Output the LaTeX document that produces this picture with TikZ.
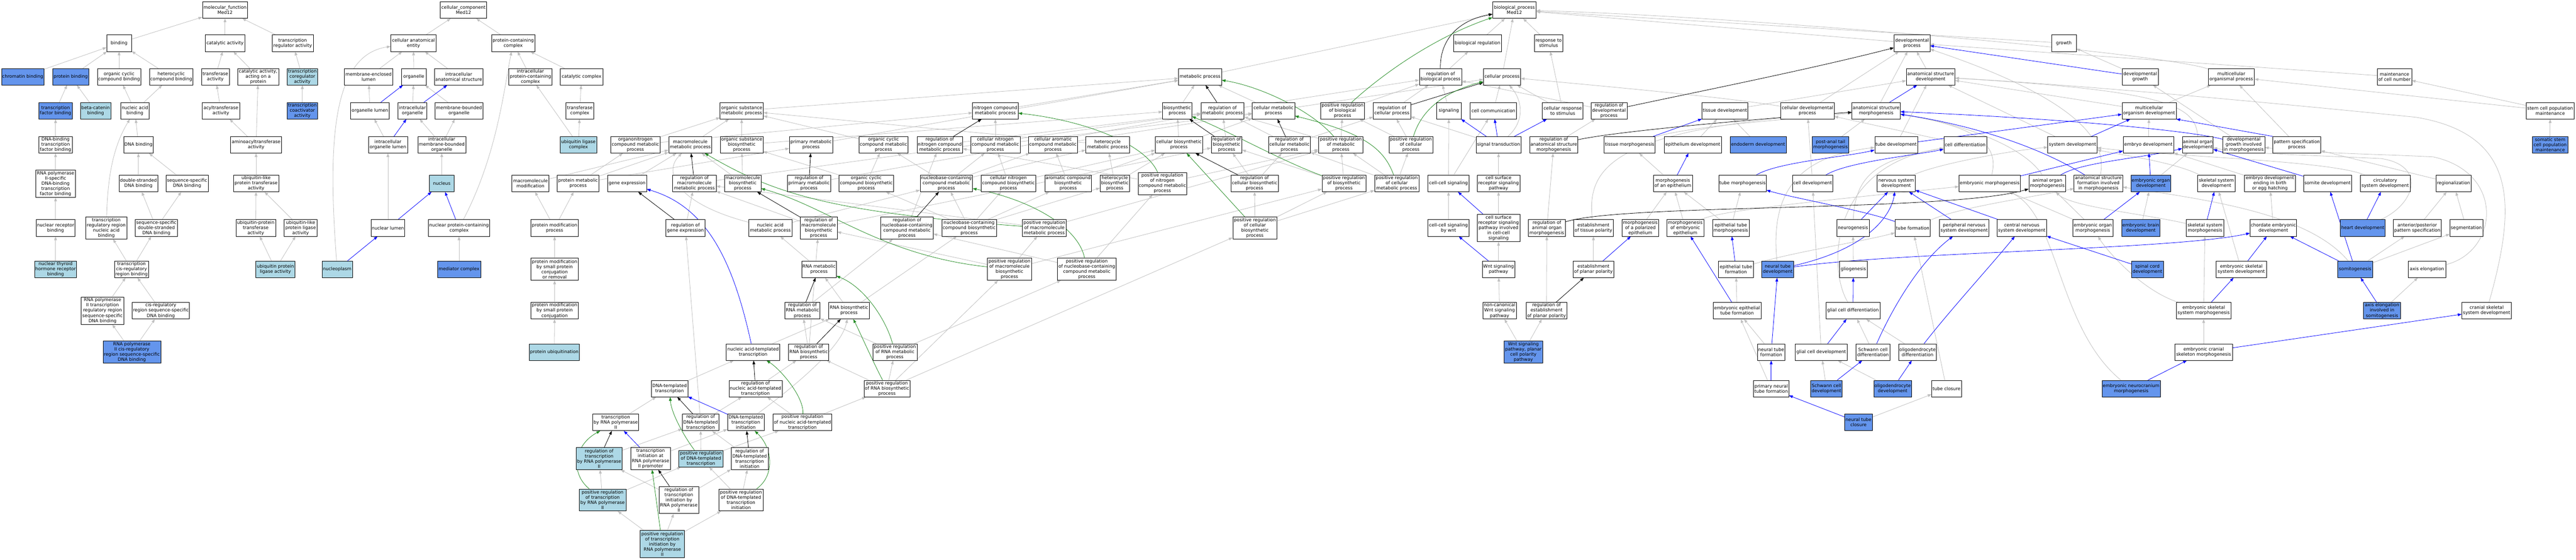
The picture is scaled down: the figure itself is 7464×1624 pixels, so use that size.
\documentclass[tikz,border=0pt]{standalone}
\usepackage{fontspec}
\setmainfont{DejaVu Sans}
\usetikzlibrary{arrows.meta}
\definecolor{eg}{RGB}{192,192,192}
\definecolor{lbf}{RGB}{173,216,230}
\definecolor{cbf}{RGB}{100,149,237}
\definecolor{fgr}{RGB}{34,139,34}
\pgfdeclarelayer{bgpaper}
\pgfdeclarelayer{bg}
\pgfsetlayers{bgpaper,bg,main}
\newcommand{\gn}[6]{\node[#1,minimum width=#4pt,minimum height=#5pt] (#2) at (#3) {#6};}
\begin{document}
\begin{tikzpicture}[x=1pt,y=-1pt,
 bx/.style={draw=black,line width=0.9pt,fill=white,align=center,inner sep=1pt,font=\fontsize{13}{15}\selectfont},
 nw/.style={bx}, nl/.style={bx,fill=lbf}, nc/.style={bx,fill=cbf},
 edgebase/.style={line width=1.2pt,-{Triangle[length=11pt,width=8pt]}},
 egray/.style={edgebase,eg}, eblue/.style={edgebase,blue}, eblack/.style={edgebase,black}, egreen/.style={edgebase,fgr}]
\begin{pgfonlayer}{bgpaper}
\fill[white] (0,0) rectangle (7464,1624);
\end{pgfonlayer}
\useasboundingbox (0,0) rectangle (7464,1624);
% ---------- molecular function ----------
\gn{nw}{mf}{652,29}{131}{48}{molecular\_function\\Med12}
\gn{nw}{bind}{345,125}{72}{48}{binding}
\gn{nw}{cat}{652,125}{115}{48}{catalytic activity}
\gn{nw}{trreg}{848,125}{119}{48}{transcription\\regulator activity}
\gn{nc}{chrom}{66,222.5}{123}{48}{chromatin binding}
\gn{nc}{prot}{205,222.5}{104}{48}{protein binding}
\gn{nw}{occb}{345,222.5}{126}{48}{organic cyclic\\compound binding}
\gn{nw}{hetb}{496,222.5}{126}{48}{heterocyclic\\compound binding}
\gn{nw}{trans}{624,222.5}{80}{48}{transferase\\activity}
\gn{nw}{catp}{748,222.5}{119}{48}{catalytic activity,\\acting on a\\protein}
\gn{nl}{coreg}{876,222.5}{88}{48}{transcription\\coregulator\\activity}
\gn{nc}{tfb}{161,321}{96}{48}{transcription\\factor binding}
\gn{nl}{bcat}{277,321}{88}{48}{beta-catenin\\binding}
\gn{nw}{nab}{391,321}{83}{48}{nucleic acid\\binding}
\gn{nw}{acyl}{640,321}{108}{48}{acyltransferase\\activity}
\gn{nc}{coact}{876,321}{88}{48}{transcription\\coactivator\\activity}
\gn{nw}{dbtf}{161,420}{96}{48}{DNA-binding\\transcription\\factor binding}
\gn{nw}{dnab}{401,420}{86}{48}{DNA binding}
\gn{nw}{amino}{742,420}{148}{48}{aminoacyltransferase\\activity}
\gn{nw}{rnap2tf}{161,533}{115}{79}{RNA polymerase\\II-specific\\DNA-binding\\transcription\\factor binding}
\gn{nw}{dsdna}{401,532}{112}{48}{double-stranded\\DNA binding}
\gn{nw}{ssdna}{542,532}{122}{48}{sequence-specific\\DNA binding}
\gn{nw}{ubtr}{742,532}{131}{48}{ubiquitin-like\\protein transferase\\activity}
\gn{nw}{nrb}{161,661}{113}{48}{nuclear receptor\\binding}
\gn{nw}{trrnab}{308,661}{119}{64}{transcription\\regulatory region\\nucleic acid\\binding}
\gn{nw}{ssds}{453,661}{123}{48}{sequence-specific\\double-stranded\\DNA binding}
\gn{nw}{ubpt}{741,661}{115}{48}{ubiquitin-protein\\transferase\\activity}
\gn{nw}{ublig}{871,661}{95}{48}{ubiquitin-like\\protein ligase\\activity}
\gn{nl}{nthr}{161,781}{122}{48}{nuclear thyroid\\hormone receptor\\binding}
\gn{nw}{tcrb}{381,781}{98}{48}{transcription\\cis-regulatory\\region binding}
\gn{nl}{ubpl}{798,781}{113}{48}{ubiquitin protein\\ligase activity}
\gn{nw}{rp2trr}{297,901}{123}{79}{RNA polymerase\\II transcription\\regulatory region\\sequence-specific\\DNA binding}
\gn{nw}{crss}{466,901}{166}{48}{cis-regulatory\\region sequence-specific\\DNA binding}
\gn{nc}{rp2cr}{382,1021}{167}{64}{RNA polymerase\\II cis-regulatory\\region sequence-specific\\DNA binding}
% ---------- cellular component ----------
\gn{nw}{cc}{1343,29}{134}{48}{cellular\_component\\Med12}
\gn{nw}{cae}{1198,125}{131}{48}{cellular anatomical\\entity}
\gn{nw}{pcc}{1487,125}{125}{48}{protein-containing\\complex}
\gn{nw}{mel}{1068,222.5}{140}{48}{membrane-enclosed\\lumen}
\gn{nw}{org}{1199,222.5}{72}{48}{organelle}
\gn{nw}{ias}{1329,222.5}{141}{48}{intracellular\\anatomical structure}
\gn{nw}{ipcc}{1537,222.5}{125}{48}{intracellular\\protein-containing\\complex}
\gn{nw}{catc}{1685,222.5}{123}{48}{catalytic complex}
\gn{nw}{orgl}{1072,321}{112}{48}{organelle lumen}
\gn{nw}{iorg}{1195,321}{83}{48}{intracellular\\organelle}
\gn{nw}{mbo}{1330,321}{138}{48}{membrane-bounded\\organelle}
\gn{nw}{trc}{1680,321}{81}{48}{transferase\\complex}
\gn{nw}{iol}{1124,420}{113}{48}{intracellular\\organelle lumen}
\gn{nw}{imbo}{1280,420}{139}{48}{intracellular\\membrane-bounded\\organelle}
\gn{nl}{ulc}{1676,420}{106}{48}{ubiquitin ligase\\complex}
\gn{nl}{nucleus}{1280,532}{72}{48}{nucleus}
\gn{nw}{nlum}{1124,661}{98}{48}{nuclear lumen}
\gn{nw}{npcc}{1330,661}{177}{48}{nuclear protein-containing\\complex}
\gn{nl}{npl}{977,781}{88}{48}{nucleoplasm}
\gn{nc}{med}{1330,781}{125}{48}{mediator complex}
% ---------- biological process ----------
\gn{nw}{bp}{4388,29}{126}{48}{biological\_process\\Med12}
\gn{nw}{breg}{4281,125}{139}{48}{biological regulation}
\gn{nw}{resp}{4487,125}{83}{48}{response to\\stimulus}
\gn{nw}{devp}{5540,125}{104}{48}{developmental\\process}
\gn{nw}{growth}{5980,125}{72}{48}{growth}
\gn{nw}{metp}{3477,222.5}{125}{48}{metabolic process}
\gn{nw}{rbp}{4174,222.5}{123}{48}{regulation of\\biological process}
\gn{nw}{cellp}{4352,222.5}{108}{48}{cellular process}
\gn{nw}{asd}{5594,222.5}{141}{48}{anatomical structure\\development}
\gn{nw}{devg}{6201,222.5}{105}{48}{developmental\\growth}
\gn{nw}{mop}{6465,222.5}{134}{48}{multicellular\\organismal process}
\gn{nw}{mcn}{6938,222.5}{99}{48}{maintenance\\of cell number}
% rank 3
\gn{nw}{osmp}{2149,321}{125}{48}{organic substance\\metabolic process}
\gn{nw}{ncmp}{2884,321}{132}{48}{nitrogen compound\\metabolic process}
\gn{nw}{bios}{3411,321}{85}{48}{biosynthetic\\process}
\gn{nw}{rmp}{3542,321}{125}{48}{regulation of\\metabolic process}
\gn{nw}{cmp}{3690,321}{123}{48}{cellular metabolic\\process}
\gn{nw}{prbp}{3890,321}{127}{48}{positive regulation\\of biological\\process}
\gn{nw}{rcp}{4033,321}{108}{48}{regulation of\\cellular process}
\gn{nw}{sig}{4198,321}{72}{48}{signaling}
\gn{nw}{ccom}{4327,321}{134}{48}{cell communication}
\gn{nw}{crs}{4528,321}{118}{48}{cellular response\\to stimulus}
\gn{nw}{rdp}{4662,321}{104}{48}{regulation of\\developmental\\process}
\gn{nw}{tdev}{4998,321}{133}{48}{tissue development}
\gn{nw}{cdp}{5237,321}{155}{48}{cellular developmental\\process}
\gn{nw}{asm}{5436,321}{140}{48}{anatomical structure\\morphogenesis}
\gn{nw}{mod}{6227,321}{157}{48}{multicellular\\organism development}
\gn{nw}{scpm}{7389,321}{138}{48}{stem cell population\\maintenance}
% rank 4
\gn{nw}{oncmp}{1841,420}{142}{48}{organonitrogen\\compound metabolic\\process}
\gn{nw}{mmp}{2000,420}{125}{48}{macromolecule\\metabolic process}
\gn{nw}{osbp}{2149,420}{124}{48}{organic substance\\biosynthetic\\process}
\gn{nw}{pmp}{2350,420}{126}{48}{primary metabolic\\process}
\gn{nw}{occmp}{2560,420}{141}{48}{organic cyclic\\compound metabolic\\process}
\gn{nw}{rncmp}{2723,420}{132}{48}{regulation of\\nitrogen compound\\metabolic process}
\gn{nw}{cncmp}{2884,420}{143}{48}{cellular nitrogen\\compound metabolic\\process}
\gn{nw}{camp}{3051,420}{142}{48}{cellular aromatic\\compound metabolic\\process}
\gn{nw}{hmp}{3209,420}{126}{48}{heterocycle\\metabolic process}
\gn{nw}{cbp}{3416,420}{137}{48}{cellular biosynthetic\\process}
\gn{nw}{rbiop}{3554,420}{89}{48}{regulation of\\biosynthetic\\process}
\gn{nw}{rcmp}{3736,420}{122}{48}{regulation of\\cellular metabolic\\process}
\gn{nw}{prmp}{3885,420}{129}{48}{positive regulation\\of metabolic\\process}
\gn{nw}{prcp}{4088,420}{127}{48}{positive regulation\\of cellular\\process}
\gn{nw}{st}{4342,420}{130}{48}{signal transduction}
\gn{nw}{rasm}{4502,420}{140}{48}{regulation of\\anatomical structure\\morphogenesis}
\gn{nw}{tmor}{4722,420}{148}{48}{tissue morphogenesis}
\gn{nw}{epd}{4905,420}{166}{48}{epithelium development}
\gn{nc}{endo}{5094,420}{163}{48}{endoderm development}
\gn{nc}{pat}{5304,420}{106}{48}{post-anal tail\\morphogenesis}
\gn{nw}{tubd}{5494,420}{124}{48}{tube development}
\gn{nw}{cdiff}{5694,420}{124}{48}{cell differentiation}
\gn{nw}{sysd}{6005,420}{143}{48}{system development}
\gn{nw}{embd}{6225,420}{146}{48}{embryo development}
\gn{nw}{aod}{6368,420}{89}{48}{animal organ\\development}
\gn{nw}{dgim}{6501,420}{122}{48}{developmental\\growth involved\\in morphogenesis}
\gn{nw}{pspec}{6655,420}{139}{48}{pattern specification\\process}
\gn{nc}{sscpm}{7389,420}{102}{48}{somatic stem\\cell population\\maintenance}
% rank 5
\gn{nw}{mmod}{1537,532}{107}{48}{macromolecule\\modification}
\gn{nw}{pmet}{1675,532}{121}{48}{protein metabolic\\process}
\gn{nw}{gexp}{1817,532}{113}{48}{gene expression}
\gn{nw}{rmmp}{2012,532}{126}{48}{regulation of\\macromolecule\\metabolic process}
\gn{nw}{mbp}{2152,532}{106}{48}{macromolecule\\biosynthetic\\process}
\gn{nw}{rpmp}{2344,532}{126}{48}{regulation of\\primary metabolic\\process}
\gn{nw}{occbp}{2510,532}{158}{48}{organic cyclic\\compound biosynthetic\\process}
\gn{nw}{nccmp}{2742,532}{152}{48}{nucleobase-containing\\compound metabolic\\process}
\gn{nw}{cncbp}{2922,532}{158}{48}{cellular nitrogen\\compound biosynthetic\\process}
\gn{nw}{acbp}{3095,532}{135}{48}{aromatic compound\\biosynthetic\\process}
\gn{nw}{hbp}{3230,532}{85}{48}{heterocycle\\biosynthetic\\process}
\gn{nw}{prncmp}{3368,532}{141}{64}{positive regulation\\of nitrogen\\compound metabolic\\process}
\gn{nw}{rcbp}{3635,532}{137}{48}{regulation of\\cellular biosynthetic\\process}
\gn{nw}{prbiop}{3894,532}{127}{48}{positive regulation\\of biosynthetic\\process}
\gn{nw}{prcmp}{4047,532}{128}{48}{positive regulation\\of cellular\\metabolic process}
\gn{nw}{ccs}{4197,532}{120}{48}{cell-cell signaling}
\gn{nw}{csrsp}{4342,532}{123}{48}{cell surface\\receptor signaling\\pathway}
\gn{nw}{moe}{4847,532}{113}{48}{morphogenesis\\of an epithelium}
\gn{nw}{tmorph}{5049,532}{138}{48}{tube morphogenesis}
\gn{nw}{cdev}{5252,532}{117}{48}{cell development}
\gn{nw}{nsd}{5494,532}{110}{48}{nervous system\\development}
\gn{nw}{emor}{5765,532}{178}{48}{embryonic morphogenesis}
\gn{nw}{aom}{5932,532}{107}{48}{animal organ\\morphogenesis}
\gn{nw}{asfim}{6080,532}{141}{48}{anatomical structure\\formation involved\\in morphogenesis}
\gn{nc}{eod}{6232,532}{115}{48}{embryonic organ\\development}
\gn{nw}{ssd}{6422,532}{109}{48}{skeletal system\\development}
\gn{nw}{edeb}{6577,532}{147}{48}{embryo development\\ending in birth\\or egg hatching}
\gn{nw}{somd}{6744,532}{140}{48}{somite development}
\gn{nw}{csd}{6911,532}{144}{48}{circulatory\\system development}
\gn{nw}{reg}{7109,532}{102}{48}{regionalization}
% rank 6
\gn{nw}{pmp2}{1607,661}{137}{48}{protein modification\\process}
\gn{nw}{rge}{1986,661}{113}{48}{regulation of\\gene expression}
\gn{nw}{namp}{2232,661}{126}{48}{nucleic acid\\metabolic process}
\gn{nw}{rmbp}{2372,661}{107}{64}{regulation of\\macromolecule\\biosynthetic\\process}
\gn{nw}{rnccmp}{2628,661}{152}{64}{regulation of\\nucleobase-containing\\compound metabolic\\process}
\gn{nw}{nccbp}{2808,661}{158}{48}{nucleobase-containing\\compound biosynthetic\\process}
\gn{nw}{prmmp}{3026,661}{127}{48}{positive regulation\\of macromolecule\\metabolic process}
\gn{nw}{prcbp}{3636,661}{128}{64}{positive regulation\\of cellular\\biosynthetic\\process}
\gn{nw}{ccsw}{4197,661}{120}{48}{cell-cell signaling\\by wnt}
\gn{nw}{csrsi}{4342,661}{123}{80}{cell surface\\receptor signaling\\pathway involved\\in cell-cell\\signaling}
\gn{nw}{raom}{4482,661}{107}{48}{regulation of\\animal organ\\morphogenesis}
\gn{nw}{etp}{4617,661}{116}{48}{establishment\\of tissue polarity}
\gn{nw}{mpe}{4753,661}{106}{48}{morphogenesis\\of a polarized\\epithelium}
\gn{nw}{mee}{4883,661}{107}{48}{morphogenesis\\of embryonic\\epithelium}
\gn{nw}{etm}{5015,661}{106}{48}{epithelial tube\\morphogenesis}
\gn{nw}{neurog}{5369,661}{94}{48}{neurogenesis}
\gn{nw}{tform}{5542,661}{102}{48}{tube formation}
\gn{nw}{pnsd}{5691,661}{144}{48}{peripheral nervous\\system development}
\gn{nw}{cnsd}{5858,661}{144}{48}{central nervous\\system development}
\gn{nw}{eom}{6064,661}{116}{48}{embryonic organ\\morphogenesis}
\gn{nc}{ebd}{6203,661}{111}{48}{embryonic brain\\development}
\gn{nw}{ssm}{6389,661}{110}{48}{skeletal system\\morphogenesis}
\gn{nw}{ced}{6587,661}{135}{48}{chordate embryonic\\development}
\gn{nc}{heart}{6846,661}{130}{48}{heart development}
\gn{nw}{aps}{7004,661}{139}{48}{anterior/posterior\\pattern specification}
\gn{nw}{segm}{7146,661}{95}{48}{segmentation}
% rank 7
\gn{nw}{pmsr}{1607,781}{137}{64}{protein modification\\by small protein\\conjugation\\or removal}
\gn{nw}{rnamp}{2373,781}{100}{48}{RNA metabolic\\process}
\gn{nw}{prmbp}{2925,781}{128}{64}{positive regulation\\of macromolecule\\biosynthetic\\process}
\gn{nw}{prnccmp}{3149,781}{170}{64}{positive regulation\\of nucleobase-containing\\compound metabolic\\process}
\gn{nw}{wnt}{4342,781}{94}{48}{Wnt signaling\\pathway}
\gn{nw}{epp}{4617,781}{117}{48}{establishment\\of planar polarity}
\gn{nw}{etf}{5030,781}{101}{48}{epithelial tube\\formation}
\gn{nc}{ntd}{5151,781}{92}{48}{neural tube\\development}
\gn{nw}{glio}{5370,781}{81}{48}{gliogenesis}
\gn{nc}{scd}{6222,781}{92}{48}{spinal cord\\development}
\gn{nw}{essd}{6494,781}{145}{48}{embryonic skeletal\\system development}
\gn{nc}{somg}{6824,781}{102}{48}{somitogenesis}
\gn{nw}{axel}{7032,781}{108}{48}{axis elongation}
% rank 8
\gn{nw}{pmsc}{1607,901}{137}{48}{protein modification\\by small protein\\conjugation}
\gn{nw}{rrmp}{2325,901}{102}{48}{regulation of\\RNA metabolic\\process}
\gn{nw}{rnabp}{2460,901}{117}{48}{RNA biosynthetic\\process}
\gn{nw}{ncw}{4345,901}{97}{48}{non-canonical\\Wnt signaling\\pathway}
\gn{nw}{repp}{4481,901}{118}{48}{regulation of\\establishment\\of planar polarity}
\gn{nw}{eetf}{5033,901}{139}{48}{embryonic epithelial\\tube formation}
\gn{nw}{gcdiff}{5369,901}{157}{48}{glial cell differentiation}
\gn{nw}{essm}{6385,901}{158}{48}{embryonic skeletal\\system morphogenesis}
\gn{nc}{aeis}{6902,901}{107}{48}{axis elongation\\involved in\\somitogenesis}
\gn{nw}{cssd}{7205,901}{144}{48}{cranial skeletal\\system development}
% rank 9
\gn{nl}{pubq}{1606,1021}{146}{48}{protein ubiquitination}
\gn{nw}{natt}{2182,1021}{155}{48}{nucleic acid-templated\\transcription}
\gn{nw}{rrbp}{2343,1021}{117}{48}{regulation of\\RNA biosynthetic\\process}
\gn{nw}{prrmp}{2593,1021}{128}{48}{positive regulation\\of RNA metabolic\\process}
\gn{nc}{wpcp}{4414,1021}{111}{64}{Wnt signaling\\pathway, planar\\cell polarity\\pathway}
\gn{nw}{ntf}{5132,1021}{80}{48}{neural tube\\formation}
\gn{nw}{gcdev}{5277,1021}{150}{48}{glial cell development}
\gn{nw}{scdiff}{5427,1021}{99}{48}{Schwann cell\\differentiation}
\gn{nw}{oldiff}{5556,1021}{110}{48}{oligodendrocyte\\differentiation}
\gn{nw}{ecsm}{6385,1021}{166}{48}{embryonic cranial\\skeleton morphogenesis}
% rank 10
\gn{nw}{dtt}{1940,1127}{106}{48}{DNA-templated\\transcription}
\gn{nw}{rnatt}{2189,1127}{154}{48}{regulation of\\nucleic acid-templated\\transcription}
\gn{nw}{prrbp}{2570,1127}{133}{48}{positive regulation\\of RNA biosynthetic\\process}
\gn{nw}{pntf}{5132,1127}{102}{48}{primary neural\\tube formation}
\gn{nc}{scdev}{5292,1127}{91}{48}{Schwann cell\\development}
\gn{nc}{oldev}{5484,1127}{109}{48}{oligodendrocyte\\development}
\gn{nw}{tclos}{5640,1127}{86}{48}{tube closure}
\gn{nc}{enm}{6175,1127}{169}{48}{embryonic neurocranium\\morphogenesis}
% rank 11
\gn{nw}{trp2}{1784,1225}{133}{48}{transcription\\by RNA polymerase\\II}
\gn{nw}{rdtt}{2030,1225}{106}{48}{regulation of\\DNA-templated\\transcription}
\gn{nw}{dtti}{2161,1225}{106}{48}{DNA-templated\\transcription\\initiation}
\gn{nw}{prnatt}{2325,1225}{170}{48}{positive regulation\\of nucleic acid-templated\\transcription}
\gn{nc}{ntc}{5385,1225}{81}{48}{neural tube\\closure}
% rank 12-14
\gn{nl}{rtrp2}{1736,1330}{133}{64}{regulation of\\transcription\\by RNA polymerase\\II}
\gn{nw}{tirp2}{1885,1330}{114}{64}{transcription\\initiation at\\RNA polymerase\\II promoter}
\gn{nl}{prdtt}{2031,1330}{128}{48}{positive regulation\\of DNA-templated\\transcription}
\gn{nw}{rdtti}{2172,1330}{107}{64}{regulation of\\DNA-templated\\transcription\\initiation}
\gn{nl}{prtrp2}{1746,1450}{135}{64}{positive regulation\\of transcription\\by RNA polymerase\\II}
\gn{nw}{rtirp2}{1967,1450}{115}{79}{regulation of\\transcription\\initiation by\\RNA polymerase\\II}
\gn{nw}{prdtti}{2147,1450}{129}{64}{positive regulation\\of DNA-templated\\transcription\\initiation}
\gn{nl}{prtirp2}{1919,1578}{129}{79}{positive regulation\\of transcription\\initiation by\\RNA polymerase\\II}
% ---------- edges ----------
\begin{pgfonlayer}{bg}
\foreach \a/\b in {bind/mf, cat/mf, trreg/mf, chrom/bind, prot/bind, occb/bind, hetb/bind, trans/cat, catp/cat, coreg/trreg, tfb/prot, bcat/prot, nab/occb, nab/hetb, acyl/trans, coact/coreg, dbtf/tfb, dnab/nab, amino/acyl, amino/catp, rnap2tf/dbtf, dsdna/dnab, ssdna/dnab, ubtr/amino, nrb/rnap2tf, ssds/dsdna, ssds/ssdna, ubpt/ubtr, ublig/ubtr, nthr/nrb, tcrb/trrnab, tcrb/ssds, ubpl/ubpt, ubpl/ublig, rp2trr/tcrb, crss/tcrb, rp2cr/rp2trr, rp2cr/crss,
cae/cc, pcc/cc, mel/cae, org/cae, ias/cae, ipcc/pcc, catc/pcc, orgl/mel, iorg/org, mbo/org, trc/catc, iol/orgl, imbo/mbo, imbo/iorg, ulc/trc, ulc/ipcc, nucleus/imbo, nlum/iol, med/npcc,
breg/bp, resp/bp, cellp/bp, metp/bp, devp/bp, growth/bp, rbp/breg, devg/growth, asd/devp, cdp/devp, asm/devp, tdev/asd, mod/asd, mod/mop, mcn/devp, scpm/mcn, scpm/mop, sscpm/scpm, pspec/mop, dgim/devg, rdp/rbp,
osmp/metp, ncmp/metp, bios/metp, cmp/metp, pmp/metp, oncmp/osmp, oncmp/ncmp, mmp/osmp, osbp/osmp, osbp/bios, occmp/osmp, hmp/osmp, rmp/rbp, cmp/cellp, cncmp/ncmp, cncmp/cmp, camp/cmp, cbp/bios, cbp/cmp, rbiop/rmp, rcmp/rmp, rcmp/rcp, prmp/rmp, prmp/prbp, prbp/rbp, prcp/rcp, prcp/prbp, rcp/rbp, sig/rbp, ccom/cellp, crs/cellp, crs/resp, st/rcp, rncmp/rmp,
pmet/oncmp, pmet/pmp, pmet/mmp, mmod/mmp, gexp/mmp, rmmp/rmp, rge/rmmp, mbp/mmp, mbp/osbp, rpmp/rmp,
occbp/occmp, occbp/osbp, nccmp/occmp, nccmp/cncmp, nccmp/camp, nccmp/hmp, cncbp/cncmp, cncbp/cbp, acbp/camp, acbp/cbp, hbp/hmp, hbp/cbp, prncmp/rncmp, prncmp/prmp, rcbp/rbiop, rcbp/rcmp, prbiop/prmp, prbiop/rbiop, prcmp/prmp, prcmp/prcp, prcmp/rcmp,
pmp2/mmod, pmp2/pmet, namp/nccmp, rmbp/rmmp, rmbp/rbiop, rnccmp/rncmp, nccbp/nccmp, nccbp/cncbp, nccbp/acbp, nccbp/hbp, nccbp/occbp, prmmp/rmmp, prmmp/prmp, prcbp/rcbp, prcbp/prbiop, prcbp/prcmp,
pmsr/pmp2, rnamp/namp, prmbp/prmmp, prmbp/rmbp, prmbp/prbiop, prnccmp/rnccmp, prnccmp/prncmp,
pmsc/pmsr, rrmp/rnccmp, rnabp/rnamp, rnabp/nccbp, pubq/pmsc, natt/rnabp, rrbp/rrmp, rrbp/rmbp, prrmp/rrmp, prrmp/prnccmp,
dtt/natt, rnatt/rrbp, prrbp/prrmp, prrbp/prmbp, prrbp/prcbp, prrbp/rrbp, trp2/dtt, rdtt/rnatt, rdtt/rge, prnatt/rnatt, prnatt/prrbp, rtrp2/rdtt, tirp2/dtti, prdtt/rdtt, prdtt/prnatt, rdtti/rdtt, prtrp2/rtrp2, prtrp2/prdtt, rtirp2/rtrp2, rtirp2/rdtti, prdtti/rdtti, prdtti/prdtt, prtirp2/prtrp2, prtirp2/rtirp2, prtirp2/prdtti,
ccs/sig, ccs/ccom, csrsp/st, ccsw/ccs, csrsi/csrsp, wnt/csrsi, ncw/wnt, wpcp/ncw, wpcp/repp, repp/raom, rasm/rdp, raom/rasm, epp/etp, moe/tmor, epd/tdev, endo/tdev, pat/asm, tubd/asd, cdiff/cdp, sysd/asd, embd/mod, edeb/embd, ced/edeb, mpe/moe, mee/moe, etm/moe, etm/tmorph, eetf/etf, ntf/eetf, pntf/eetf, ntc/tclos, tclos/tform, glio/neurog, cdev/cdp, gcdev/cdev, scdiff/gcdiff, oldiff/gcdiff, scdev/gcdev, oldev/gcdev, eom/aom, eom/emor, ebd/eod, eod/aod, reg/pspec, aps/reg, segm/reg, somg/aps, somg/segm, essd/ssd, essm/ssm, ecsm/essm, aeis/axel}
  \draw[egray] (\a) -- (\b);
\draw[egray] (npl) .. controls (950,420) and (960,160) .. (cae);
\draw[egray] (npcc) .. controls (1440,450) and (1460,260) .. (pcc);
\draw[egray] (trrnab) .. controls (312,520) and (325,430) .. (nab);
\draw[egray] (namp) .. controls (1960,590) and (1920,500) .. (mmp);
\draw[egray] (dtti) .. controls (2330,1100) and (2440,1000) .. (rnabp);
\draw[egray] (ntd) .. controls (5125,520) and (5250,450) .. (tubd);
\draw[egray] (neurog) .. controls (5375,500) and (5450,460) .. (cdiff);
\draw[egray] (gcdiff) .. controls (5295,780) and (5300,480) .. (cdiff);
\draw[egray] (etf) .. controls (5200,730) and (5400,700) .. (tform);
\draw[egray] (tform) .. controls (5680,600) and (5900,570) .. (asfim);
\draw[egray] (etp) .. controls (4595,480) and (4680,370) .. (asm);
\draw[egray] (tmor) .. controls (4900,365) and (5200,345) .. (asm);
\draw[egray] (cdp) .. controls (5000,282) and (4700,255) .. (cellp);
\draw[egray] (mop) .. controls (6250,150) and (5000,45) .. (bp);
\draw[egray] (aod) .. controls (6365,300) and (6250,262) .. (asd);
\draw[egray] (cssd) .. controls (7290,600) and (7300,390) .. (7000,340) .. controls (6500,290) and (6000,245) .. (asd);
\draw[egray] (axel) .. controls (7240,730) and (7260,500) .. (7050,455) .. controls (6900,447) and (6700,445) .. (dgim);
\draw[egray] (heart) .. controls (7000,590) and (7030,480) .. (6900,460) .. controls (6700,450) and (6500,446) .. (aod);
\draw[egray] (csd) .. controls (6750,465) and (6300,455) .. (sysd);
\draw[egray] (ssd) .. controls (6300,470) and (6150,450) .. (sysd);
\draw[egray] (nsd) .. controls (5600,480) and (5800,440) .. (sysd);
\draw[egray] (somg) .. controls (6690,620) and (6400,580) .. (asfim);
\draw[egray] (essm) .. controls (6200,840) and (6100,720) .. (eom);
\draw[egray] (enm) .. controls (5960,950) and (5965,620) .. (emor);
\draw[egray] (mee) .. controls (4980,610) and (5300,580) .. (emor);
\draw[egray] (ssm) .. controls (6212,620) and (6000,600) .. (aom);
\draw[egray] (st) .. controls (4420,350) and (4410,290) .. (cellp);
\draw[egray] (emor) .. controls (5790,430) and (5750,370) .. (asm);
\draw[egray] (aom) .. controls (5870,430) and (5700,360) .. (asm);
\draw[egray] (asfim) .. controls (6110,400) and (6000,280) .. (devp);
% blue
\foreach \a/\b in {orgl/org, iorg/ias, iol/iorg, nlum/nucleus, npl/nlum, npcc/nucleus, devg/devp, asm/asd, tmor/tdev, moe/epd, st/sig, st/ccom, st/crs, csrsi/ccs, wnt/ccsw, epp/mpe, eetf/mee, etf/etm, tubd/mod, sysd/mod, emor/embd, eod/embd, neurog/nsd, pnsd/nsd, cnsd/nsd, scd/cnsd, eom/eod, somd/aod, heart/csd, somg/somd, somg/ced, ssm/ssd, essd/ced, essm/essd, ecsm/cssd, enm/ecsm, aeis/somg, ntf/ntd, pntf/ntf, ntc/pntf, gcdiff/glio, gcdev/gcdiff, scdev/scdiff, oldev/oldiff, tirp2/trp2, dtti/dtt}
  \draw[eblue] (\a) -- (\b);
\draw[eblue] (pspec.north west) -- (mod.south east);
\draw[eblue] (natt) .. controls (2125,760) and (2050,600) .. (gexp);
\draw[eblue] (ntd) .. controls (5500,730) and (6300,725) .. (ced);
\draw[eblue] (ntd) .. controls (5420,720) and (5480,620) .. (nsd);
\draw[eblue] (tform) .. controls (5400,610) and (5200,575) .. (tmorph);
\draw[eblue] (tmorph) .. controls (5150,470) and (5350,455) .. (tubd);
\draw[eblue] (cdev) .. controls (5350,470) and (5550,450) .. (cdiff);
\draw[eblue] (dgim) .. controls (6350,380) and (6000,345) .. (asm);
\draw[eblue] (asfim) .. controls (5900,420) and (5700,360) .. (asm);
\draw[eblue] (aom) .. controls (6030,470) and (6200,460) .. (aod);
\draw[eblue] (scdiff) .. controls (5480,900) and (5560,760) .. (pnsd);
\draw[eblue] (oldiff) .. controls (5650,900) and (5760,780) .. (cnsd);
% black
\foreach \a/\b in {rcp/cellp, rmp/metp, repp/epp, rncmp/ncmp, rbiop/bios, rcmp/cmp, rcbp/cbp, rmmp/mmp, rpmp/pmp, rge/gexp, rmbp/mbp, rnccmp/nccmp, rrmp/rnamp, rrbp/rnabp, rnatt/natt, rdtt/dtt, rtrp2/trp2, rdtti/dtti, rtirp2/tirp2}
  \draw[eblack] (\a) -- (\b);
\draw[eblack] (rbp) .. controls (4172,120) and (4220,60) .. (bp);
\draw[eblack] (rdp) .. controls (4900,270) and (5250,200) .. (devp);
\draw[eblack] (rasm) .. controls (4700,378) and (5150,340) .. (asm);
\draw[eblack] (raom) .. controls (4700,590) and (5650,615) .. (aom);
% green
\draw[egreen] (prbp) .. controls (4000,220) and (4150,110) .. (bp);
\draw[egreen] (prcp) .. controls (4115,330) and (4170,270) .. (cellp);
\draw[egreen] (prcmp) .. controls (4010,430) and (3950,385) .. (cmp);
\draw[egreen] (prbiop) .. controls (3720,470) and (3560,380) .. (bios);
\draw[egreen] (prmp) .. controls (3800,320) and (3650,250) .. (metp);
\draw[egreen] (prncmp) .. controls (3320,420) and (3150,350) .. (ncmp);
\draw[egreen] (prnccmp) .. controls (3125,660) and (2990,580) .. (nccmp);
\draw[egreen] (prmmp) .. controls (2400,615) and (2240,560) .. (mmp);
\draw[egreen] (prmbp) .. controls (2550,740) and (2400,600) .. (mbp);
\draw[egreen] (prrmp) .. controls (2565,920) and (2500,830) .. (rnamp);
\draw[egreen] (prrbp) .. controls (2525,1040) and (2490,960) .. (rnabp);
\draw[egreen] (prnatt) .. controls (2330,1150) and (2260,1070) .. (natt);
\draw[egreen] (prdtt) .. controls (1985,1270) and (1945,1200) .. (dtt);
\draw[egreen] (prtrp2) .. controls (1650,1370) and (1665,1290) .. (trp2);
\draw[egreen] (prdtti) .. controls (2245,1380) and (2240,1300) .. (dtti);
\draw[egreen] (prtirp2) -- (tirp2);
\draw[egreen] (prcbp) -- (cbp);
\end{pgfonlayer}
\end{tikzpicture}
\end{document}
